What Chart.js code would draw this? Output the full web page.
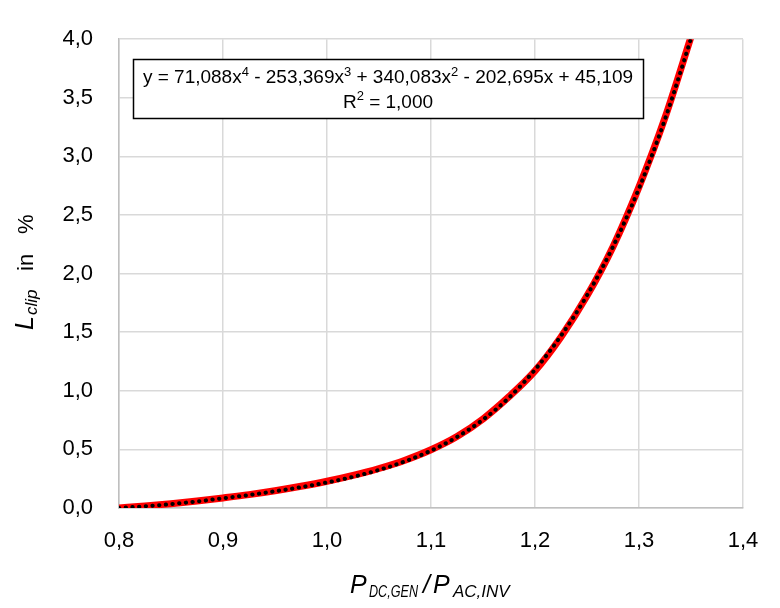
<!DOCTYPE html>
<html>
<head>
<meta charset="utf-8">
<script src="https://cdn.jsdelivr.net/npm/chart.js@4.4.0/dist/chart.umd.min.js"></script>
<style>
  html, body { margin: 0; padding: 0; background: #fff; }
</style>
</head>
<body>
<canvas id="chart" width="780" height="608"></canvas>
<script>
/* data */
const ratio        = [0.800, 0.825, 0.850, 0.875, 0.900, 0.925, 0.950, 0.975, 1.000, 1.025, 1.050, 1.075,
                      1.100, 1.125, 1.150, 1.175, 1.200, 1.225, 1.250, 1.275, 1.300, 1.325, 1.350, 1.360];
const lossClip     = [0.000, 0.018, 0.037, 0.060, 0.086, 0.114, 0.147, 0.185, 0.228, 0.278, 0.337, 0.408,
                      0.497, 0.610, 0.760, 0.950, 1.170, 1.460, 1.810, 2.230, 2.740, 3.330, 4.020, 4.300];
const lossTrend    = [0.000, 0.015, 0.033, 0.056, 0.083, 0.111, 0.143, 0.178, 0.218, 0.266, 0.325, 0.398,
                      0.490, 0.606, 0.754, 0.942, 1.180, 1.470, 1.814, 2.230, 2.727, 3.317, 4.007, 4.300];
const trendCoef    = [71.088, -253.369, 340.083, -202.695, 45.109];
const trendR2      = 1.000;
const xTickStep    = 0.1;
const yTickStep    = 0.5;

const fmt = (v, d) => v.toFixed(d).replace('.', ',');

function toPoints(ys) {
  return ratio.map((x, i) => ({ x: x, y: ys[i] }));
}

/* draw text pieces one after another: {t, font, dy} */
function drawParts(ctx, parts, x, y) {
  let cx = x;
  parts.forEach(p => {
    ctx.font = p.font;
    ctx.fillText(p.t, cx, y + (p.dy || 0));
    cx += ctx.measureText(p.t).width;
  });
}
function partsWidth(ctx, parts) {
  let w = 0;
  parts.forEach(p => { ctx.font = p.font; w += ctx.measureText(p.t).width; });
  return w;
}

const FONT = '"Liberation Sans", Arial, sans-serif';

const labelsPlugin = {
  id: 'labels',
  afterDraw(chart) {
    const ctx = chart.ctx;
    ctx.save();
    ctx.textBaseline = 'alphabetic';
    ctx.textAlign = 'left';

    /* trendline equation box */
    ctx.fillStyle = '#fff';
    ctx.fillRect(133, 59, 511, 59);
    ctx.strokeStyle = '#000';
    ctx.lineWidth = 1.5;
    ctx.strokeRect(133.5, 59.5, 510, 59);
    ctx.fillStyle = '#000';

    const big = '19px ' + FONT, sup = '13px ' + FONT;
    const c = trendCoef;
    const sgn = v => (v < 0 ? ' - ' : ' + ');
    const line1 = [
      { t: 'y = ' + fmt(c[0], 3) + 'x', font: big },
      { t: '4', font: sup, dy: -7 },
      { t: sgn(c[1]) + fmt(Math.abs(c[1]), 3) + 'x', font: big },
      { t: '3', font: sup, dy: -7 },
      { t: sgn(c[2]) + fmt(Math.abs(c[2]), 3) + 'x', font: big },
      { t: '2', font: sup, dy: -7 },
      { t: sgn(c[3]) + fmt(Math.abs(c[3]), 3) + 'x' + sgn(c[4]) + fmt(Math.abs(c[4]), 3), font: big }
    ];
    const line2 = [
      { t: 'R', font: big },
      { t: '2', font: sup, dy: -8 },
      { t: ' = ' + fmt(trendR2, 3), font: big }
    ];
    const cx = 388;
    drawParts(ctx, line1, cx - partsWidth(ctx, line1) / 2, 83);
    drawParts(ctx, line2, cx - partsWidth(ctx, line2) / 2, 108);

    /* y axis title */
    ctx.save();
    ctx.translate(33, 330);
    ctx.rotate(-Math.PI / 2);
    ctx.font = 'italic 25px ' + FONT;
    ctx.fillText('L', 0, 0);
    ctx.font = 'italic 17px ' + FONT;
    ctx.fillText('clip', 15, 4);
    ctx.font = '22px ' + FONT;
    ctx.fillText('in', 59, 0);
    ctx.fillText('%', 96, 0);
    ctx.restore();

    /* x axis title */
    ctx.font = 'italic 25px ' + FONT;
    ctx.fillText('P', 350, 593);
    ctx.fillText('/', 423, 593);
    ctx.fillText('P', 433, 593);
    ctx.font = 'italic 17px ' + FONT;
    ctx.fillText('DC,GEN', 369, 597, 49);
    ctx.fillText('AC,INV', 453, 597);

    ctx.restore();
  }
};

new Chart(document.getElementById('chart'), {
  type: 'line',
  data: {
    datasets: [
      {
        label: 'Trend',
        data: toPoints(lossTrend),
        borderColor: '#000000',
        borderWidth: 4,
        borderDash: [0.3, 6.4],
        borderCapStyle: 'round',
        pointRadius: 0,
        cubicInterpolationMode: 'monotone',
        fill: false,
        order: 1
      },
      {
        label: 'L_clip',
        data: toPoints(lossClip),
        borderColor: '#ff0000',
        borderWidth: 7,
        pointRadius: 0,
        cubicInterpolationMode: 'monotone',
        fill: false,
        order: 2
      }
    ]
  },
  options: {
    responsive: false,
    animation: false,
    events: [],
    layout: { padding: { top: 36, right: 37, left: 0, bottom: 0 } },
    plugins: {
      legend: { display: false },
      tooltip: { enabled: false }
    },
    scales: {
      x: {
        type: 'linear',
        min: 0.8,
        max: 1.4,
        afterFit: s => { s.height = 100; },
        ticks: {
          stepSize: xTickStep,
          callback: v => fmt(v, 1),
          color: '#000',
          font: { family: FONT, size: 22 },
          padding: 20,
          maxRotation: 0
        },
        grid: { color: '#d9d9d9', lineWidth: 1.5, drawTicks: false },
        border: { color: '#bfbfbf', width: 1.5 }
      },
      y: {
        min: 0,
        max: 4,
        afterFit: s => { s.width = 119; },
        ticks: {
          stepSize: yTickStep,
          callback: v => fmt(v, 1),
          color: '#000',
          font: { family: FONT, size: 22 },
          padding: 26
        },
        grid: { color: '#d9d9d9', lineWidth: 1.5, drawTicks: false },
        border: { color: '#bfbfbf', width: 1.5 }
      }
    }
  },
  plugins: [labelsPlugin]
});
</script>
</body>
</html>
